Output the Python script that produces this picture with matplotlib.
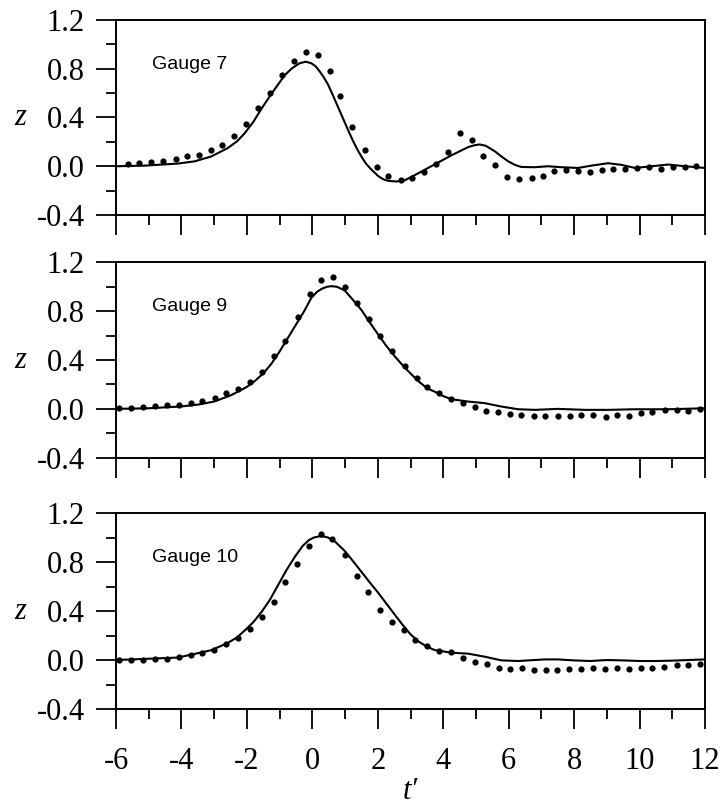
import matplotlib
matplotlib.use("Agg")
import matplotlib.pyplot as plt
from matplotlib.ticker import MultipleLocator, FormatStrFormatter

plt.rcParams['font.family'] = ['Liberation Serif', 'DejaVu Serif']
plt.rcParams['axes.unicode_minus'] = False

# Gauge 7 - measured (dots) and computed (line)
g7_t = [-5.64, -5.29, -4.93, -4.57, -4.18, -3.83, -3.47, -3.11, -2.76, -2.40, -2.02, -1.66, -1.28,
        -0.93, -0.56, -0.20, 0.17, 0.53, 0.86, 1.22, 1.62, 1.97, 2.31, 2.70, 3.05, 3.40, 3.77, 4.14,
        4.50, 4.87, 5.22, 5.59, 5.96, 6.33, 6.70, 7.04, 7.39, 7.76, 8.12, 8.49, 8.85, 9.20, 9.55,
        9.93, 10.30, 10.66, 11.02, 11.39, 11.74]
g7_z = [0.022, 0.028, 0.033, 0.039, 0.063, 0.088, 0.094, 0.132, 0.173, 0.245, 0.344, 0.479, 0.600,
        0.748, 0.864, 0.941, 0.913, 0.781, 0.580, 0.325, 0.135, -0.003, -0.083, -0.116, -0.096,
        -0.050, 0.022, 0.118, 0.275, 0.212, 0.083, 0.011, -0.091, -0.105, -0.099, -0.077, -0.041,
        -0.028, -0.039, -0.047, -0.028, -0.022, -0.022, -0.011, -0.008, -0.022, -0.006, -0.008, 0.006]
g7_line_t = [-6.0, -5.13, -4.11, -3.60, -3.09, -2.58, -2.30, -2.07, -1.80, -1.56, -1.30, -1.05,
             -0.85, -0.64, -0.50, -0.39, -0.20, -0.03, 0.10, 0.22, 0.35, 0.48, 0.60, 0.73, 0.86, 0.99,
             1.12, 1.24, 1.37, 1.50, 1.63, 1.76, 2.01, 2.15, 2.32, 2.57, 2.83, 3.22, 3.73, 4.24, 4.76,
             4.95, 5.11, 5.30, 5.57, 5.78, 5.98, 6.20, 6.39, 6.80, 7.20, 7.61, 8.12, 8.53, 9.04, 9.45,
             9.86, 10.37, 10.88, 11.39, 12.0]
g7_line_z = [0.0, 0.005, 0.022, 0.04, 0.08, 0.15, 0.205, 0.27, 0.365, 0.47, 0.575, 0.67, 0.745,
             0.80, 0.826, 0.845, 0.858, 0.845, 0.82, 0.78, 0.73, 0.67, 0.60, 0.52, 0.44, 0.36, 0.28,
             0.21, 0.14, 0.08, 0.025, -0.015, -0.08, -0.105, -0.12, -0.125, -0.115, -0.06, 0.014,
             0.088, 0.157, 0.172, 0.179, 0.168, 0.124, 0.08, 0.041, 0.01, -0.006, -0.008, 0.0, -0.008,
             -0.014, 0.005, 0.025, 0.011, -0.014, 0.0, 0.014, 0.0, -0.014]

# Gauge 9
g9_t = [-5.90, -5.54, -5.16, -4.81, -4.44, -4.09, -3.72, -3.37, -2.99, -2.63, -2.26, -1.92, -1.54,
        -1.17, -0.83, -0.44, -0.08, 0.28, 0.64, 1.01, 1.37, 1.72, 2.06, 2.44, 2.83, 3.19, 3.51, 3.87,
        4.24, 4.60, 4.98, 5.32, 5.67, 6.03, 6.39, 6.78, 7.12, 7.51, 7.87, 8.22, 8.58, 8.96, 9.32,
        9.68, 10.04, 10.39, 10.78, 11.13, 11.49, 11.85]
g9_z = [0.005, 0.005, 0.016, 0.027, 0.030, 0.030, 0.052, 0.063, 0.093, 0.132, 0.164, 0.219, 0.301,
        0.436, 0.559, 0.756, 0.942, 1.058, 1.079, 0.997, 0.868, 0.734, 0.600, 0.471, 0.348, 0.25,
        0.18, 0.134, 0.079, 0.047, 0.014, -0.019, -0.025, -0.041, -0.047, -0.058, -0.058, -0.055,
        -0.055, -0.052, -0.047, -0.063, -0.052, -0.055, -0.036, -0.027, -0.011, -0.011, -0.019, -0.003]
g9_line_t = [-6.0, -5.0, -4.0, -3.5, -3.0, -2.5, -2.0, -1.75, -1.5, -1.25, -1.0, -0.75, -0.5,
             -0.25, -0.03, 0.15, 0.3, 0.45, 0.58, 0.75, 0.99, 1.25, 1.5, 1.75, 2.01, 2.25, 2.52, 2.75,
             3.0, 3.25, 3.5, 3.73, 4.0, 4.24, 4.76, 5.27, 5.78, 6.29, 6.80, 7.51, 8.33, 9.04, 9.86,
             10.88, 12.0]
g9_line_z = [0.0, 0.005, 0.02, 0.035, 0.06, 0.11, 0.18, 0.23, 0.29, 0.37, 0.47, 0.58, 0.69, 0.80,
             0.91, 0.96, 0.985, 1.0, 1.005, 1.0, 0.97, 0.89, 0.81, 0.71, 0.61, 0.52, 0.43, 0.36,
             0.29, 0.225, 0.17, 0.142, 0.105, 0.08, 0.06, 0.047, 0.019, -0.003, -0.008, 0.0, -0.008,
             -0.008, -0.003, -0.003, 0.005]

# Gauge 10
g10_t = [-5.90, -5.54, -5.18, -4.81, -4.44, -4.08, -3.72, -3.37, -3.01, -2.63, -2.28, -1.92, -1.54,
         -1.17, -0.83, -0.47, -0.10, 0.26, 0.60, 1.01, 1.37, 1.70, 2.08, 2.44, 2.79, 3.15, 3.51,
         3.87, 4.24, 4.60, 4.98, 5.34, 5.69, 6.05, 6.41, 6.77, 7.13, 7.49, 7.85, 8.22, 8.58, 8.94,
         9.32, 9.67, 10.03, 10.39, 10.76, 11.13, 11.49, 11.85]
g10_z = [0.0, 0.0, 0.003, 0.011, 0.011, 0.025, 0.038, 0.057, 0.082, 0.134, 0.183, 0.257, 0.352,
         0.475, 0.634, 0.787, 0.929, 1.030, 0.984, 0.858, 0.689, 0.555, 0.407, 0.309, 0.247, 0.164,
         0.115, 0.074, 0.066, 0.019, -0.016, -0.030, -0.063, -0.077, -0.068, -0.082, -0.082, -0.082,
         -0.071, -0.071, -0.068, -0.077, -0.068, -0.071, -0.063, -0.063, -0.055, -0.044, -0.044, -0.030]
g10_line_t = [-6.0, -4.11, -3.09, -2.58, -2.30, -2.07, -1.80, -1.56, -1.30, -1.05, -0.80, -0.54,
              -0.30, -0.10, 0.05, 0.22, 0.35, 0.48, 0.70, 0.99, 1.25, 1.50, 1.75, 2.01, 2.25, 2.52,
              2.75, 3.0, 3.25, 3.5, 3.73, 4.24, 4.76, 5.27, 5.78, 6.29, 7.1, 7.5, 8.0, 8.5, 9.0, 9.5,
              10.0, 10.5, 11.0, 12.0]
g10_line_z = [0.0, 0.02, 0.08, 0.14, 0.185, 0.24, 0.31, 0.39, 0.49, 0.61, 0.73, 0.84, 0.93, 0.98,
              1.0, 1.01, 1.008, 1.0, 0.965, 0.89, 0.805, 0.72, 0.635, 0.55, 0.465, 0.37, 0.29, 0.21,
              0.15, 0.11, 0.082, 0.06, 0.052, 0.027, -0.003, -0.008, 0.005, 0.005, -0.003, -0.008,
              0.0, -0.003, -0.008, -0.008, -0.005, 0.005]

panels = [
    ("Gauge 7", g7_t, g7_z, g7_line_t, g7_line_z, [0.1609, 0.7336, 0.8169, 0.2416]),
    ("Gauge 9", g9_t, g9_z, g9_line_t, g9_line_z, [0.1609, 0.4328, 0.8169, 0.2421]),
    ("Gauge 10", g10_t, g10_z, g10_line_t, g10_line_z, [0.1609, 0.1214, 0.8169, 0.2429]),
]

fig = plt.figure(figsize=(7.21, 8.07), dpi=100)

for i, (name, t, z, lt, lz, pos) in enumerate(panels):
    ax = fig.add_axes(pos)
    ax.plot(lt, lz, color='black', lw=1.5, solid_joinstyle='round')
    ax.plot(t, z, 'o', color='black', ms=4.5, mec='none')
    ax.set_xlim(-6, 12)
    ax.set_ylim(-0.4, 1.2)
    ax.xaxis.set_major_locator(MultipleLocator(2))
    ax.xaxis.set_minor_locator(MultipleLocator(1))
    ax.yaxis.set_major_locator(MultipleLocator(0.4))
    ax.yaxis.set_minor_locator(MultipleLocator(0.2))
    ax.yaxis.set_major_formatter(FormatStrFormatter('%.1f'))
    for s in ax.spines.values():
        s.set_linewidth(1.4)
    ax.tick_params(which='major', direction='out', length=14.4, width=1.3, labelsize=22, pad=8)
    ax.tick_params(which='minor', direction='out', length=7.2, width=1.3)
    ax.tick_params(axis='x', which='major', pad=13)
    if i < 2:
        ax.tick_params(axis='x', labelbottom=False)
    ax.set_ylabel('z', fontsize=22, style='italic', rotation=0, ha='center', va='center')
    ax.yaxis.set_label_coords(-0.163, 0.5)
    ax.text(0.061, 0.774, name, transform=ax.transAxes, ha='left', va='center',
            fontsize=14, family='Liberation Sans')
    if i == 2:
        ax.set_xlabel('t\u2032', fontsize=22, style='italic')
        ax.xaxis.set_label_coords(0.5, -0.345)

fig.savefig('out.png', dpi=100)
